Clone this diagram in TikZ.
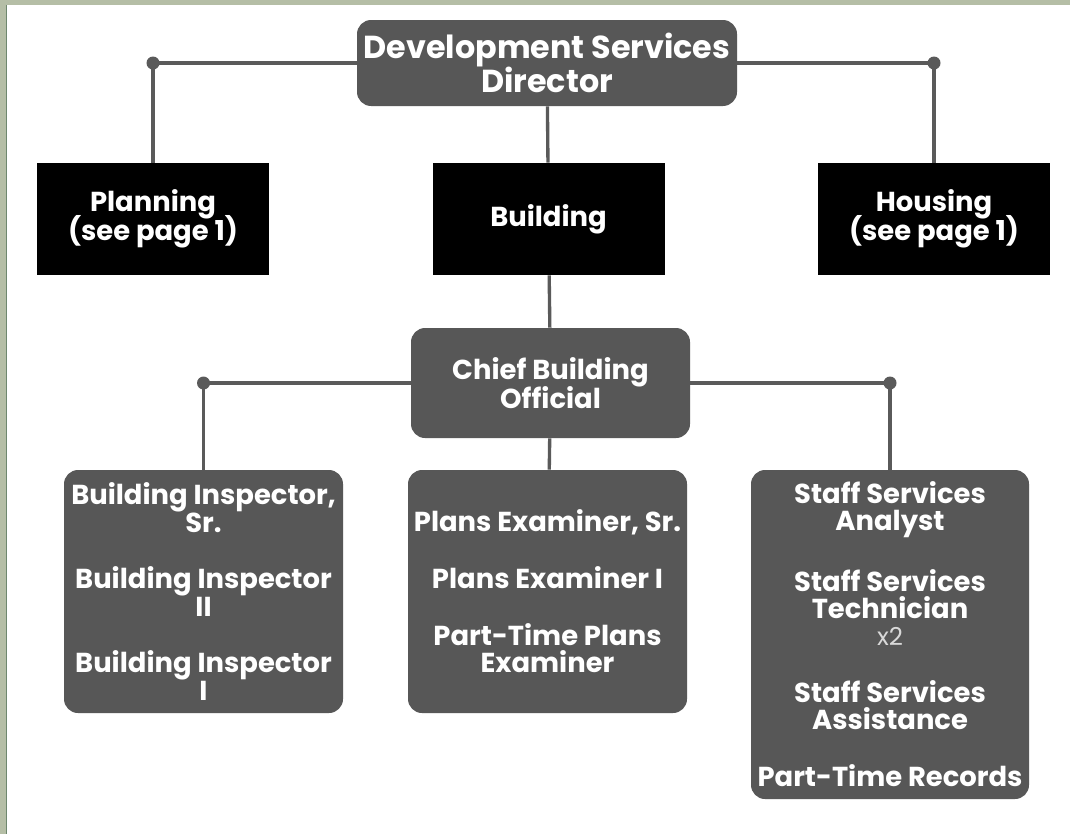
\documentclass[tikz,border=0pt]{standalone}
\usepackage{fontspec}
\setmainfont{Poppins}
\usepackage{xcolor}
\usetikzlibrary{positioning, calc}

\definecolor{boxgray}{HTML}{575757}
\definecolor{linegray}{HTML}{5A5A5A}
\definecolor{framegreen}{HTML}{B5BEA6}
\definecolor{framedark}{HTML}{6E876E}

\tikzset{
    % grey role boxes (rounded)
    rolebox/.style={
        rectangle,
        rounded corners=8pt,
        fill=boxgray,
        text=white,
        align=center,
        inner sep=0pt,
        font=\fontsize{15.6}{15.4}\selectfont\bfseries
    },
    % black division boxes
    divbox/.style={
        rectangle,
        fill=black,
        text=white,
        align=center,
        inner sep=0pt,
        minimum width=4.64cm,
        minimum height=2.24cm,
        font=\fontsize{15.6}{16.5}\selectfont\bfseries
    },
    % connectors
    link/.style={draw=linegray, line width=1.9pt},
    joint/.style={fill=linegray}
}

\begin{document}
\begin{tikzpicture}
    % Background and frame
    \fill[white] (0,0) rectangle (21.4,-16.68);
    \fill[framegreen] (0,0) rectangle (0.11,-16.68);
    \fill[framedark] (0.11,0) rectangle (0.15,-16.68);
    \fill[framegreen] (0,0) rectangle (21.4,-0.1);
    \useasboundingbox (0,0) rectangle (21.4,-16.68);

    % Top level
    \node[rolebox, minimum width=7.6cm, minimum height=1.72cm,
          font=\fontsize{18.1}{18.2}\selectfont\bfseries] (dir) at (10.94,-1.26)
        {Development Services\\[-1pt]Director};

    % Divisions
    \node[divbox] (plan) at (3.06,-4.38) {Planning\\[-3pt](see page 1)};
    \node[divbox] (bldg) at (10.97,-4.38) {Building};
    \node[divbox] (hous) at (18.68,-4.38) {Housing\\[-3pt](see page 1)};

    % Building
    \node[rolebox, minimum width=5.58cm, minimum height=2.2cm,
          font=\fontsize{15.6}{16.5}\selectfont\bfseries] (cbo) at (11.01,-7.66)
        {Chief Building\\[-1pt]Official};

    \node[rolebox, minimum width=5.58cm, minimum height=4.86cm] (insp) at (4.07,-11.83)
        {Building Inspector,\\Sr.\\[17pt]Building Inspector\\II\\[17pt]Building Inspector\\I};
    \node[rolebox, minimum width=5.58cm, minimum height=4.86cm] (exam) at (10.95,-11.83)
        {Plans Examiner, Sr.\\[17pt]Plans Examiner I\\[17pt]Part-Time Plans\\Examiner};
    \node[rolebox, minimum width=5.56cm, minimum height=6.58cm] (staff) at (17.8,-12.69)
        {Staff Services\\Analyst\\[17pt]Staff Services\\Technician\\
         {\fontsize{14}{15.4}\selectfont\mdseries\color{white!85!black}x2}\\[17pt]
         Staff Services\\Assistance\\[17pt]Part-Time Records};

    % Branch points
    \coordinate (dl) at (plan |- dir);
    \coordinate (dr) at (hous |- dir);
    \coordinate (cl) at (insp |- cbo);
    \coordinate (cr) at (staff |- cbo);

    % Connectors
    \draw[link] (dir) -- (dl) -- (plan);
    \draw[link] (dir) -- (dr) -- (hous);
    \draw[link] (dir) -- (bldg);
    \draw[link] (bldg) -- (cbo);
    \draw[link] (cbo) -- (cl) -- (insp);
    \draw[link] (cbo) -- (cr) -- (staff);
    \draw[link] (cbo) -- (exam);

    \foreach \p in {dl, dr, cl, cr}
        \fill[joint] (\p) circle (3.7pt);

\end{tikzpicture}
\end{document}
